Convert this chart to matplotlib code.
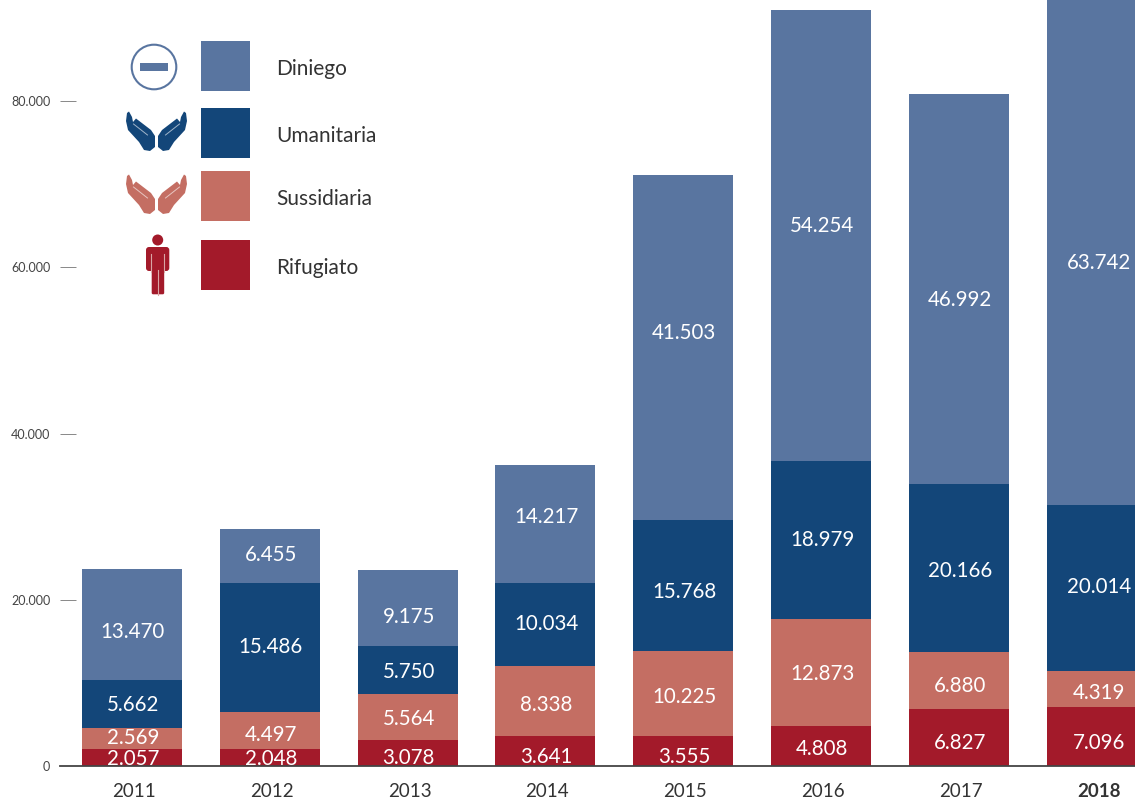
import matplotlib
matplotlib.use("Agg")
import matplotlib.pyplot as plt
from matplotlib.patches import Circle, Rectangle, Polygon, FancyBboxPatch
import numpy as np

years = ["2011", "2012", "2013", "2014", "2015", "2016", "2017", "2018"]
rifugiato = [2057, 2048, 3078, 3641, 3555, 4808, 6827, 7096]
sussidiaria = [2569, 4497, 5564, 8338, 10225, 12873, 6880, 4319]
umanitaria = [5662, 15486, 5750, 10034, 15768, 18979, 20166, 20014]
diniego = [13470, 6455, 9175, 14217, 41503, 54254, 46992, 63742]
series_names = ["Rifugiato", "Sussidiaria", "Umanitaria", "Diniego"]
series = [rifugiato, sussidiaria, umanitaria, diniego]
colors = ["#A31A2A", "#C46E63", "#134679", "#5975A0"]
yticks = [0, 20000, 40000, 60000, 80000]
ytick_labels = ["0", "20.000", "40.000", "60.000", "80.000"]

# vertical placement of the value labels (pixels from the top of the image)
label_px = [
    [757, 757, 756, 755, 755, 747, 741, 741],
    [736, 733, 717, 703, 695, 672, 684, 691],
    [703, 645, 670, 622, 590, 538, 569, 585],
    [630, 553, 615, 515, 331, 224, 298, 261],
]

W, H = 1135, 800
plt.rcParams["font.family"] = ["Lato", "DejaVu Sans"]
fig = plt.figure(figsize=(W / 100, H / 100), dpi=100, facecolor="white")

ax = fig.add_axes([60 / W, 34 / H, (W - 60) / W, 766 / H])
ax.set_xlim((60 - 132) / 137.8, (W - 132) / 137.8)
ax.set_ylim(0, 766 / 166.25 * 20000)
px_to_val = 20000 / 166.25

x = np.arange(len(years))
bottom = np.zeros(len(years))
for vals, col, ypx in zip(series, colors, label_px):
    vals = np.array(vals)
    ax.bar(x, vals, width=100 / 137.8, bottom=bottom, color=col, linewidth=0, zorder=2)
    for xi, v, py in zip(x, vals, ypx):
        label = f"{v:,}".replace(",", ".")
        ax.text(xi + (2.5 if xi == 7 else 1) / 137.8, (766 - py) * px_to_val, label, ha="center",
                va="center_baseline", color="white", fontsize=14.8, zorder=3, clip_on=False)
    bottom += vals

for s in ["top", "right", "left"]:
    ax.spines[s].set_visible(False)
ax.spines["bottom"].set_color("#444444")
ax.spines["bottom"].set_linewidth(1.3)
ax.spines["bottom"].set_zorder(4)
ax.set_yticks(yticks)
ax.set_yticklabels(ytick_labels)
ax.tick_params(axis="y", direction="in", length=11.5, width=0.7, color="#888888",
               labelcolor="#444444", labelsize=9, pad=7)
ax.set_xticks(x)
ax.set_xticklabels([f"{y}" for y in years])
ax.tick_params(axis="x", length=0, labelsize=13.5, labelcolor="#333333", pad=12)
ax.get_xticklabels()[-1].set_fontweight("bold")
ax.get_yticklines()[0].set_visible(False)
for lab in ax.get_xticklabels():
    lab.set_x(lab.get_position()[0])
    lab.set_transform(lab.get_transform() + matplotlib.transforms.ScaledTranslation(2 / 100, 0, fig.dpi_scale_trans))

ov = fig.add_axes([0, 0, 1, 1], facecolor="none")
ov.set_xlim(0, W)
ov.set_ylim(H, 0)
ov.axis("off")

legend_rows = [("Diniego", colors[3], 41, 91, 69),
               ("Umanitaria", colors[2], 108, 158, 136),
               ("Sussidiaria", colors[1], 171, 221, 199),
               ("Rifugiato", colors[0], 240, 290, 268)]
for name, col, y0, y1, ty in legend_rows:
    ov.add_patch(Rectangle((201, y0), 49, y1 - y0, color=col, lw=0))
    ov.text(276, ty, name, ha="left", va="center", fontsize=15, color="#333333")

ov.add_patch(Circle((154, 67), 22.3, fill=False, ec=colors[3], lw=1.5))
ov.add_patch(Rectangle((139.5, 63), 28, 7.5, color=colors[3], lw=0))

hand = np.array([[27.5, 0.5], [24.5, 6], [23.5, 11], [20.5, 7.5], [5.5, 19], [1.5, 25], [1.5, 36],
                 [6.5, 40], [12.5, 39], [17.5, 31], [28.5, 19], [30.5, 10], [29.5, 2]])
vein = np.array([[23, 13], [9, 24]])
def hands(cx, top, col):
    for sgn in (-1, 1):
        ov.add_patch(Polygon(np.c_[cx + sgn * hand[:, 0], top + hand[:, 1]], closed=True, color=col, lw=0))
        ov.plot(cx + sgn * vein[:, 0], top + vein[:, 1], color="white", lw=0.7, alpha=0.6)
hands(156.5, 111, colors[2])
hands(156.5, 174, colors[1])

c = colors[0]
ov.add_patch(Circle((157.7, 240), 5.5, color=c, lw=0))
ov.add_patch(FancyBboxPatch((146, 247), 23.3, 24, boxstyle="round,pad=0,rounding_size=3", color=c, lw=0))
ov.add_patch(FancyBboxPatch((151.7, 262), 12.5, 32.3, boxstyle="round,pad=0,rounding_size=1.5", color=c, lw=0))
light = "#D9A5A5"
ov.plot([151.3, 151.3], [254, 272], color=light, lw=0.8)
ov.plot([164.4, 164.4], [254, 272], color=light, lw=0.8)
ov.plot([157.9, 157.9], [270, 295], color=light, lw=0.8)

ov.set_xlim(0, W)
ov.set_ylim(H, 0)
fig.savefig("out.png", dpi=100, facecolor="white")
